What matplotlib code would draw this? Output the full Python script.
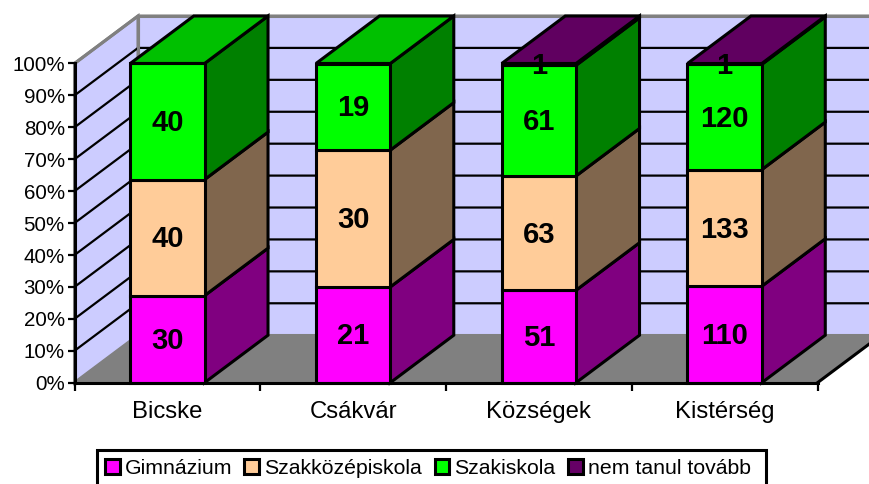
#!/usr/bin/env python3

import numpy as np
import matplotlib
matplotlib.use('Agg')
import matplotlib.pyplot as plt
from matplotlib.patches import Patch, Polygon, Rectangle

plt.rcParams['font.family'] = ['Liberation Sans', 'DejaVu Sans']

# Data
categories = ['Bicske', 'Csákvár', 'Községek', 'Kistérség']
series_names = ['Gimnázium', 'Szakközépiskola', 'Szakiskola', 'nem tanul tovább']
gimnazium = [30, 21, 51, 110]
szakkozep = [40, 30, 63, 133]
szakiskola = [40, 19, 61, 120]
nem_tanul = [0, 0, 1, 1]

# Colors: front, side and top of each series
front_colors = ['#FF00FF', '#FFCC99', '#00FF00', '#660066']
side_colors = ['#800080', '#80664D', '#008000', '#5C005C']
top_colors = ['#C000C0', '#C09973', '#00C000', '#600060']

W, H = 869, 484
fig = plt.figure(figsize=(W / 100, H / 100), dpi=100)
ax = fig.add_axes([74.5 / W, (H - 382.7) / H, 743 / W, 319.2 / H])
ax.patch.set_visible(False)
ax.set_xlim(0, 4)
ax.set_ylim(0, 100)

# Oblique depth of the fake 3D box, in data units
dx = 63.5 / 743 * 4
dy = 47.5 / 319.2 * 100
lw = 2.2
grid_lw = 1.6


def add_poly(points, face, edge='k', width=lw, z=2):
	ax.add_patch(Polygon(points, closed=True, facecolor=face, edgecolor=edge,
			linewidth=width, zorder=z, clip_on=False, joinstyle='miter'))


# Walls and floor
add_poly([(dx, dy), (4 + dx, dy), (4 + dx, 100 + dy), (dx, 100 + dy)], '#CCCCFF', '#808080', 2.2, 1)
add_poly([(0, 0), (dx, dy), (dx, 100 + dy), (0, 100)], '#CCCCFF', '#808080', 2.2, 1)
add_poly([(0, 0), (4, 0), (4 + dx, dy), (dx, dy)], '#808080', '#808080', 1, 1)

# Gridlines on the side wall and the back wall
yticks = np.arange(0, 101, 10)
for y in yticks[1:]:
	color = 'k' if y < 100 else '#808080'
	ax.plot([0, dx, 4 + dx], [y, y + dy, y + dy], color=color, linewidth=grid_lw if y < 100 else 2.2,
			zorder=1.5, clip_on=False, solid_joinstyle='miter')
ax.plot([dx, dx], [dy, 100 + dy], color='#808080', linewidth=2.2, zorder=1.6, clip_on=False)
ax.plot([4, 4 + dx], [0, dy], color='k', linewidth=lw, zorder=1.6, clip_on=False)

# Stacked bars, as share of each category total
values = np.array([gimnazium, szakkozep, szakiskola, nem_tanul], dtype=float)
shares = values / values.sum(axis=0) * 100
x = np.arange(len(categories)) + 0.5
width = 0.4
bottom = np.zeros(len(categories))
for i in range(len(series_names)):
	for j in range(len(categories)):
		if values[i, j] == 0:
			continue
		x1 = x[j] + width / 2
		y0, y1 = bottom[j], bottom[j] + shares[i, j]
		add_poly([(x1, y0), (x1 + dx, y0 + dy), (x1 + dx, y1 + dy), (x1, y1)], side_colors[i], z=3)
	ax.bar(x, shares[i], width, bottom=bottom, color=front_colors[i], edgecolor='k',
			linewidth=lw, zorder=4, clip_on=False)
	bottom = bottom + shares[i]

# Bar tops take the color of the highest visible series
for j in range(len(categories)):
	last = np.nonzero(values[:, j])[0][-1]
	x0, x1 = x[j] - width / 2, x[j] + width / 2
	add_poly([(x0, 100), (x1, 100), (x1 + dx, 100 + dy), (x0 + dx, 100 + dy)], top_colors[last], z=3.5)

# Value labels
bottom = np.zeros(len(categories))
for i in range(len(series_names)):
	for j in range(len(categories)):
		if values[i, j] > 0:
			ax.annotate(str(int(values[i, j])), (x[j], bottom[j] + shares[i, j] / 2),
					xytext=(0, 1.0), textcoords='offset points', ha='center', va='center_baseline',
					fontsize=21, fontweight='bold', color='k', zorder=6)
	bottom = bottom + shares[i]

# Axes
for side in ['top', 'right']:
	ax.spines[side].set_visible(False)
for side in ['left', 'bottom']:
	ax.spines[side].set_linewidth(lw)
	ax.spines[side].set_zorder(5)
ax.set_yticks(yticks)
ax.set_yticklabels(['{:d}%'.format(y) for y in yticks], fontsize=14.8)
ax.tick_params(axis='y', length=5, width=1.6, pad=2)
ax.set_xticks(np.arange(5))
ax.set_xticklabels([])
ax.tick_params(axis='x', which='major', length=6, width=1.6)
ax.set_xticks(x, minor=True)
ax.set_xticklabels(categories, minor=True, fontsize=17.2)
ax.tick_params(axis='x', which='minor', length=0, pad=13)

# Legend, its box runs off the bottom of the picture
fig.add_artist(Rectangle((97 / W, -10 / H), 669 / W, 44 / H, transform=fig.transFigure,
		facecolor='w', edgecolor='k', linewidth=lw))
handles = [Patch(facecolor=c, edgecolor='k', linewidth=lw) for c in front_colors]
leg = fig.legend(handles, series_names, ncol=4, loc='upper left',
		bbox_to_anchor=(97 / W, (H - 451.5) / H), bbox_transform=fig.transFigure, fontsize=15.3,
		frameon=False, borderpad=0.36, borderaxespad=0,
		handlelength=0.7, handleheight=0.7, handletextpad=0.24, columnspacing=0.58)

fig.savefig('out.png', dpi=100)
